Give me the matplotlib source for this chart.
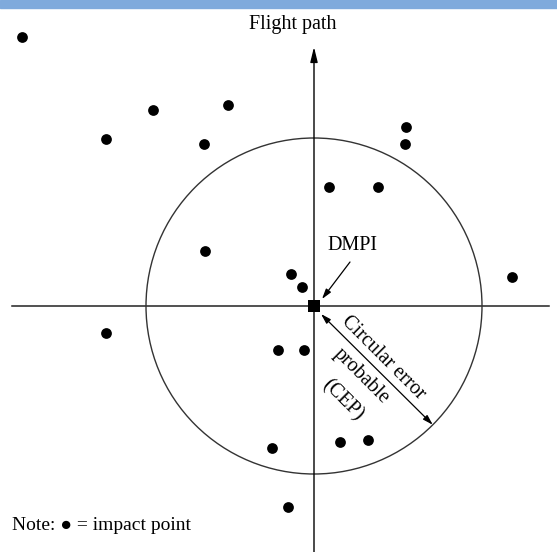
import matplotlib.pyplot as plt
import matplotlib.patches as mpatches

plt.rcParams['font.family'] = ['Liberation Serif', 'DejaVu Sans']

# impact points, offset from the DMPI (pixels of the original drawing, y up)
impact_x = [-292, -208, -161, -86, -110, 92, 91, 15, 64, -109,
            -23, -12, 198, -208, -36, -10, -42, 26, 54, -26]
impact_y = [269, 167, 196, 201, 162, 179, 162, 119, 119, 55,
            32, 19, 29, -27, -44, -44, -142, -136, -134, -201]

cep_radius = 168
dmpi = (0, 0)

fig = plt.figure(figsize=(5.57, 5.52), dpi=100)
ax = fig.add_axes([0, 0, 1, 1])
ax.set_xlim(-314, 243)
ax.set_ylim(-246, 306)
ax.axis('off')

# barre bleue en haut
ax.add_patch(mpatches.Rectangle((-314, 298), 557, 8, color='#7faadc', zorder=5, clip_on=False))

# axes du repère
ax.plot([-302, 235], [0, 0], color='#222222', lw=1.1, zorder=1)
ax.annotate('', xy=(0, 259), xytext=(0, -246),
            arrowprops=dict(arrowstyle='-|>,head_length=0.9,head_width=0.22',
                            color='black', lw=1.0, shrinkA=0, shrinkB=0))
ax.text(-21, 282, 'Flight path', ha='center', va='center', fontsize=14.5)

# cercle CEP
ax.add_patch(mpatches.Circle(dmpi, cep_radius, fill=False, edgecolor='#333333', lw=1.0, zorder=1))

# points d'impact
ax.scatter(impact_x, impact_y, s=60, color='black', zorder=3, linewidths=0)

# DMPI
ax.scatter([dmpi[0]], [dmpi[1]], marker='s', s=80, color='black', zorder=4, linewidths=0)
ax.text(38, 61, 'DMPI', ha='center', va='center', fontsize=14.5)
ax.annotate('', xy=(8, 7), xytext=(36, 44),
            arrowprops=dict(arrowstyle='-|>,head_length=0.6,head_width=0.18',
                            color='black', lw=0.9, shrinkA=0, shrinkB=0))

# flèche du rayon CEP
end = cep_radius * 0.7071
ax.annotate('', xy=(end, -end), xytext=(7, -8),
            arrowprops=dict(arrowstyle='<|-|>,head_length=0.6,head_width=0.18',
                            color='black', lw=0.9, shrinkA=0, shrinkB=0))
ax.text(69, -52, 'Circular error', ha='center', va='center', fontsize=14.5,
        rotation=-45, rotation_mode='anchor')
ax.text(47, -70, 'probable', ha='center', va='center', fontsize=14.5,
        rotation=-45, rotation_mode='anchor')
ax.text(28, -94, '(CEP)', ha='center', va='center', fontsize=14.5,
        rotation=-45, rotation_mode='anchor')

# note
ax.text(-302, -219, 'Note: \u25cf = impact point', ha='left', va='center', fontsize=14)

plt.savefig('out.png', dpi=100)
plt.close()
